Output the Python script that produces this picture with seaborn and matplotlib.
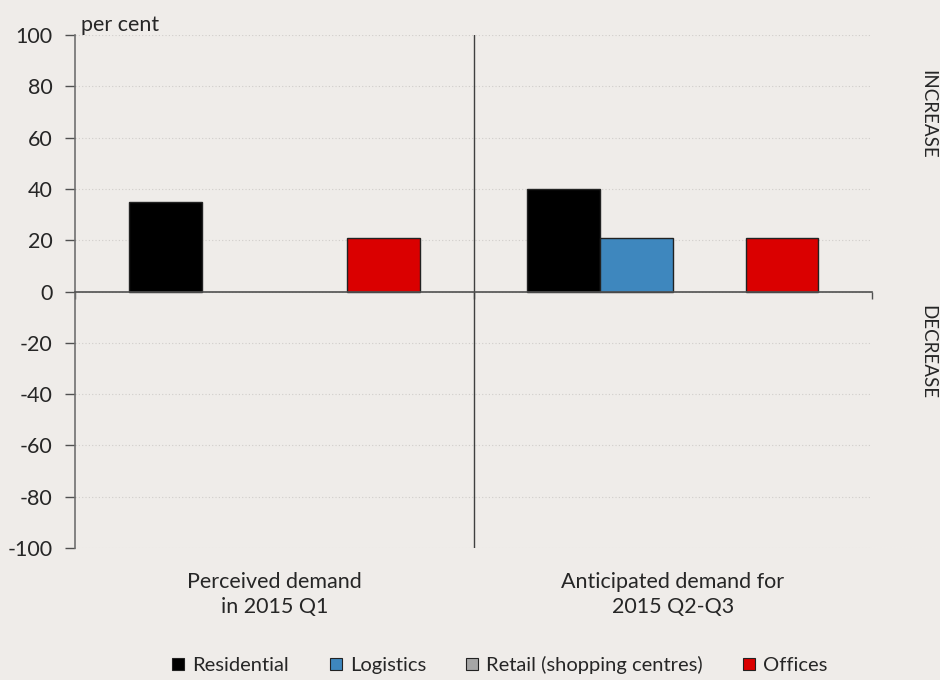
import matplotlib
matplotlib.use("Agg")
import matplotlib.pyplot as plt
from matplotlib.patches import Patch
import seaborn as sns
import pandas as pd

categories = ["Perceived demand\nin 2015 Q1", "Anticipated demand for\n2015 Q2-Q3"]
series = ["Residential", "Logistics", "Retail (shopping centres)", "Offices"]
residential = [35, 40]
logistics = [0, 21]
retail = [0, 0]
offices = [21, 21]
yticks = [-100, -80, -60, -40, -20, 0, 20, 40, 60, 80, 100]

colors = ["#000000", "#3E87BE", "#A6A6A6", "#DA0000"]
bg = "#EFECE9"

rows = []
for s, vals in zip(series, [residential, logistics, retail, offices]):
    for c, v in zip(categories, vals):
        rows.append({"category": c, "series": s, "value": v})
df = pd.DataFrame(rows)

sns.set_style("white", {"xtick.bottom": True, "ytick.left": True})
plt.rcParams["font.family"] = ["Lato", "DejaVu Sans"]

fig = plt.figure(figsize=(9.4, 6.8), dpi=100, facecolor=bg)
ax = fig.add_axes([0.0798, 0.194, 0.848, 0.7545])
ax.set_facecolor(bg)

sns.barplot(data=df, x="category", y="value", hue="series", hue_order=series,
            palette=colors, saturation=1, width=0.73, edgecolor="#222222",
            linewidth=1.0, ax=ax, legend=False)

for p in ax.patches:
    if p.get_height() == 0:
        p.set_linewidth(0)

ax.set_ylim(-100, 100)
ax.set_xlim(-0.5, 1.5)
ax.set_yticks(yticks)
ax.set_yticklabels([str(t) for t in yticks], fontsize=15.5)
for t in yticks:
    ax.axhline(t, color="#D0CDCA", linestyle=(0, (1, 2)), linewidth=0.8, zorder=0)

for sp in ["top", "right"]:
    ax.spines[sp].set_visible(False)
ax.spines["left"].set_color("#707070")
ax.spines["left"].set_linewidth(1.2)
ax.spines["bottom"].set_position(("data", 0))
ax.spines["bottom"].set_color("#505050")
ax.spines["bottom"].set_linewidth(1.2)
ax.set_xticks([-0.5, 0.5, 1.5])
ax.set_xticklabels([])
ax.tick_params(axis="x", bottom=True, direction="out", length=5, color="#505050", width=1)
ax.tick_params(axis="y", left=True, direction="out", length=7, color="#505050", width=1, pad=9)
ax.axvline(0.5, color="#404040", linewidth=1.0, zorder=1)
ax.set_xlabel("")
ax.set_ylabel("")

for i, c in enumerate(categories):
    ax.text(i, -0.047, c, transform=ax.get_xaxis_transform(), ha="center", va="top",
            fontsize=15.5, linespacing=1.3)

ax.text(0.008, 1.0, "per cent", transform=ax.transAxes, ha="left", va="bottom", fontsize=15.5)
fig.text(0.987, 0.832, "INCREASE", rotation=-90, ha="center", va="center", fontsize=13.5)
fig.text(0.987, 0.482, "DECREASE", rotation=-90, ha="center", va="center", fontsize=13.5)

handles = [Patch(facecolor=c, edgecolor="#222222", linewidth=0.8) for c in colors]
fig.legend(handles, series, loc="center", bbox_to_anchor=(0.532, 0.022), ncol=4,
           frameon=False, fontsize=14.5, handlelength=0.6, handleheight=0.6,
           handletextpad=0.4, columnspacing=2.0)

fig.savefig("out.png", dpi=100, facecolor=bg)
